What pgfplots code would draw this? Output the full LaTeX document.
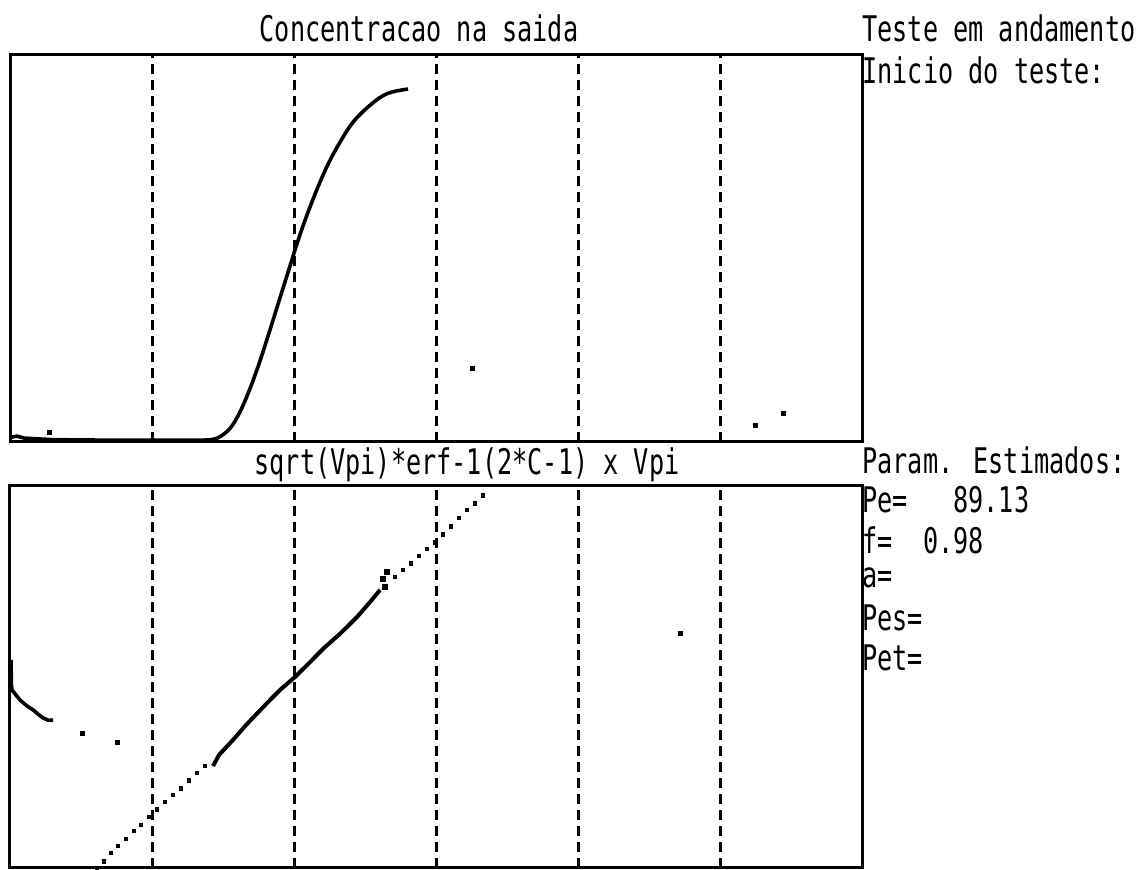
\documentclass[border=0pt]{standalone}
\usepackage{pgfplots}
\pgfplotsset{compat=1.18}
\usepackage{fontspec}
\newfontfamily\dos{DejaVu Sans Mono}
\newcommand{\dt}[1]{\scalebox{1}[1.4]{\dos\fontsize{12.6pt}{14pt}\selectfont #1}}
\pgfplotsset{
  dosaxis/.style={
    scale only axis, anchor=south west,
    width=426pt, xmin=0, xmax=6, ymin=0, ymax=1,
    xtick={1,2,3,4,5}, xticklabels={}, ytick=\empty,
    major tick length=0pt,
    xmajorgrids,
    major grid style={black, line width=1.5pt, dash pattern=on 5pt off 3pt},
    axis line style={black, line width=1.5pt},
    clip=false,
  }
}
\begin{document}
\begin{tikzpicture}
\useasboundingbox (0,0) rectangle (569pt,435pt);
% top axis
\begin{axis}[dosaxis, at={(5pt,214pt)}, height=193.5pt]
\addplot[black, line width=1.8pt] coordinates {
(0.00,0.012) (0.05,0.015) (0.10,0.010) (0.20,0.008) (0.30,0.006) (0.60,0.005) (1.00,0.005)
(1.373,0.005)
};
\addplot[black, line width=1.8pt, smooth, tension=0.6] coordinates {
(1.373,0.005) (1.460,0.010) (1.549,0.035) (1.620,0.078) (1.690,0.138) (1.761,0.210)
(1.831,0.290) (1.901,0.372) (1.972,0.455) (2.035,0.528) (2.100,0.595) (2.170,0.660)
(2.240,0.718) (2.320,0.772) (2.415,0.826) (2.535,0.870) (2.655,0.900) (2.803,0.912)
};
\addplot[only marks, mark=square*, mark size=1pt, black] coordinates {
(0.28,0.026) (3.254,0.191) (5.246,0.044) (5.444,0.075)
};
\end{axis}
% bottom axis
\begin{axis}[dosaxis, at={(5pt,1pt)}, height=191pt]
\addplot[only marks, mark=square*, mark size=0.9pt, black] coordinates {
(0.613,0.000) (0.662,0.018) (0.711,0.039) (0.761,0.058) (0.817,0.076) (0.873,0.097)
(0.923,0.113) (0.979,0.134) (1.035,0.154) (1.092,0.173) (1.148,0.191) (1.204,0.209)
(1.261,0.230) (1.317,0.249) (1.373,0.267)
};
\addplot[black, line width=2pt] coordinates {
(1.430,0.267) (1.472,0.296) (1.570,0.335) (1.669,0.377) (1.803,0.429) (1.901,0.466)
(2.007,0.500) (2.113,0.539) (2.211,0.576) (2.324,0.613) (2.444,0.657) (2.535,0.696)
(2.606,0.728)
};
\addplot[only marks, mark=square*, mark size=1.2pt, black] coordinates {
(2.627,0.757) (2.655,0.775) (2.641,0.735)
};
\addplot[only marks, mark=square*, mark size=0.9pt, black] coordinates {
(2.711,0.762) (2.768,0.780) (2.824,0.798) (2.880,0.817) (2.937,0.835) (2.993,0.853)
(3.049,0.874) (3.106,0.895) (3.162,0.916) (3.218,0.937) (3.275,0.955) (3.331,0.976)
};
\addplot[black, line width=1.8pt] coordinates {
(0.007,0.545) (0.010,0.480) (0.014,0.466) (0.070,0.440) (0.120,0.424) (0.162,0.414)
(0.197,0.403) (0.232,0.393) (0.268,0.387) (0.303,0.387)
};
\addplot[only marks, mark=square*, mark size=1pt, black] coordinates {
(0.507,0.353) (0.754,0.330) (4.718,0.615)
};
\end{axis}
% titles and side text
\node[inner sep=0] at (209.5pt,421pt) {\dt{Concentracao na saida}};
\node[inner sep=0] at (233.5pt,202.5pt) {\dt{sqrt(Vpi)*erf-1(2*C-1) x Vpi}};
\node[inner sep=0, anchor=west] at (431pt,421pt) {\dt{Teste em andamento}};
\node[inner sep=0, anchor=west] at (431pt,400pt) {\dt{Inicio do teste:}};
\node[inner sep=0, anchor=west] at (431pt,205pt) {\dt{Param. Estimados:}};
\node[inner sep=0, anchor=west] at (431pt,185pt) {\dt{Pe=\ \ \ 89.13}};
\node[inner sep=0, anchor=west] at (431pt,165pt) {\dt{f=\ \ 0.98}};
\node[inner sep=0, anchor=west] at (431pt,146pt) {\dt{a=}};
\node[inner sep=0, anchor=west] at (431pt,126pt) {\dt{Pes=}};
\node[inner sep=0, anchor=west] at (431pt,106pt) {\dt{Pet=}};
\end{tikzpicture}
\end{document}
